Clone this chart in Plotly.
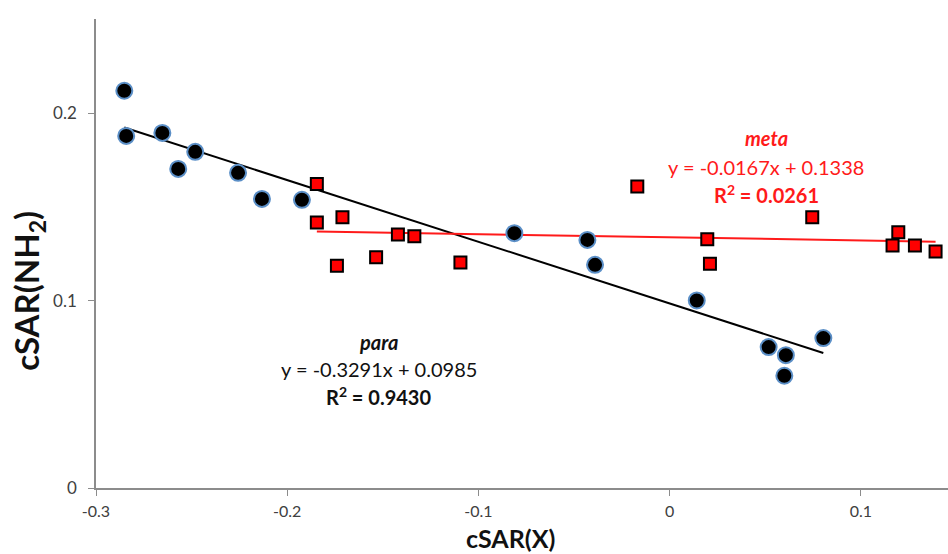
import plotly.graph_objects as go

# para series (black circles)
para_x = [-0.2852, -0.2842, -0.2653, -0.2570, -0.2481, -0.2257, -0.2132, -0.1923,
          -0.0812, -0.0430, -0.0390, 0.0142, 0.0518, 0.0608, 0.0600, 0.0804]
para_y = [0.2120, 0.1879, 0.1895, 0.1703, 0.1794, 0.1682, 0.1543, 0.1538,
          0.1360, 0.1324, 0.1191, 0.1001, 0.0752, 0.0709, 0.0599, 0.0800]

# meta series (red squares)
meta_x = [-0.1845, -0.1845, -0.1711, -0.1740, -0.1535, -0.1421, -0.1335, -0.1094,
          -0.0169, 0.0197, 0.0211, 0.0746, 0.1196, 0.1166, 0.1283, 0.1391]
meta_y = [0.1623, 0.1417, 0.1445, 0.1186, 0.1232, 0.1353, 0.1344, 0.1203,
          0.1609, 0.1328, 0.1197, 0.1445, 0.1365, 0.1294, 0.1294, 0.1262]

# trendline coefficients (slope, intercept)
para_fit = (-0.3291, 0.0985)
meta_fit = (-0.0167, 0.1338)

x_ticks = [-0.3, -0.2, -0.1, 0, 0.1]
x_ticklabels = ["-0.3", "-0.2", "-0.1", "0", "0.1"]
y_ticks = [0, 0.1, 0.2]
y_ticklabels = ["0", "0.1", "0.2"]

FONT = "Lato, 'Open Sans', sans-serif"

fig = go.Figure()

def fit_line(xs, fit):
    x0, x1 = min(xs), max(xs)
    return [x0, x1], [fit[0] * x0 + fit[1], fit[0] * x1 + fit[1]]

lx, ly = fit_line(para_x, para_fit)
fig.add_trace(go.Scatter(x=lx, y=ly, mode="lines", line=dict(color="black", width=2),
                         showlegend=False, hoverinfo="skip"))
lx, ly = fit_line(meta_x, meta_fit)
fig.add_trace(go.Scatter(x=lx, y=ly, mode="lines", line=dict(color="#ff1a1a", width=2),
                         showlegend=False, hoverinfo="skip"))

fig.add_trace(go.Scatter(x=para_x, y=para_y, mode="markers", name="para",
                         marker=dict(symbol="circle", size=16, color="black",
                                     line=dict(color="#5b8fc7", width=2)),
                         showlegend=False))
fig.add_trace(go.Scatter(x=meta_x, y=meta_y, mode="markers", name="meta",
                         marker=dict(symbol="square", size=12, color="#ff0000",
                                     line=dict(color="black", width=2)),
                         showlegend=False))

axis_common = dict(showline=True, linecolor="#8c8c8c", linewidth=1.5, ticks="outside",
                   tickcolor="#8c8c8c", ticklen=6, tickwidth=1, showgrid=False,
                   zeroline=False)

fig.update_xaxes(range=[-0.3, 0.1456], tickvals=x_ticks, ticktext=x_ticklabels,
                 ticklabelstandoff=2,
                 tickfont=dict(family=FONT, size=16, color="#404040"), **axis_common)
fig.update_yaxes(range=[0, 0.2503], tickvals=y_ticks, ticktext=y_ticklabels,
                 ticklabelstandoff=8,
                 tickfont=dict(family=FONT, size=17, color="#404040"), **axis_common)

def ypx(py):
    return (488.3 - py) / 1875

text_specs = [
    (-0.152, ypx(342), "<b><i>para</i></b>", "#111111"),
    (-0.152, ypx(369), "y = -0.3291x + 0.0985", "#111111"),
    (-0.152, ypx(396), "<b>R<sup>2</sup> = 0.9430</b>", "#111111"),
    (0.0505, ypx(138), "<b><i>meta</i></b>", "#ff1a1a"),
    (0.0505, ypx(167), "y = -0.0167x + 0.1338", "#ff1a1a"),
    (0.0505, ypx(194), "<b>R<sup>2</sup> = 0.0261</b>", "#ff1a1a"),
]
annotations = []
for x, y, t, c in text_specs:
    annotations.append(dict(xref="x", yref="y", x=x, y=y, text=t, showarrow=False,
                            xanchor="center", yanchor="middle",
                            font=dict(family=FONT, size=20, color=c)))

annotations.append(dict(xref="paper", yref="paper", x=0.4865, y=-0.1405, yanchor="bottom",
                        xanchor="center", text="<b>cSAR(X)</b>", showarrow=False,
                        borderpad=0,
                        font=dict(family=FONT, size=25, color="#111111")))
annotations.append(dict(xref="paper", yref="paper", x=-0.08, y=0.42, xanchor="center",
                        yanchor="middle", text="<b>cSAR(NH<sub>2</sub>)</b>", showarrow=False,
                        textangle=-90, font=dict(family=FONT, size=33, color="#111111")))

fig.update_layout(width=948, height=554, margin=dict(l=96, r=0, t=19, b=66),
                  plot_bgcolor="white", paper_bgcolor="white", annotations=annotations)

fig.write_html("out.html")
